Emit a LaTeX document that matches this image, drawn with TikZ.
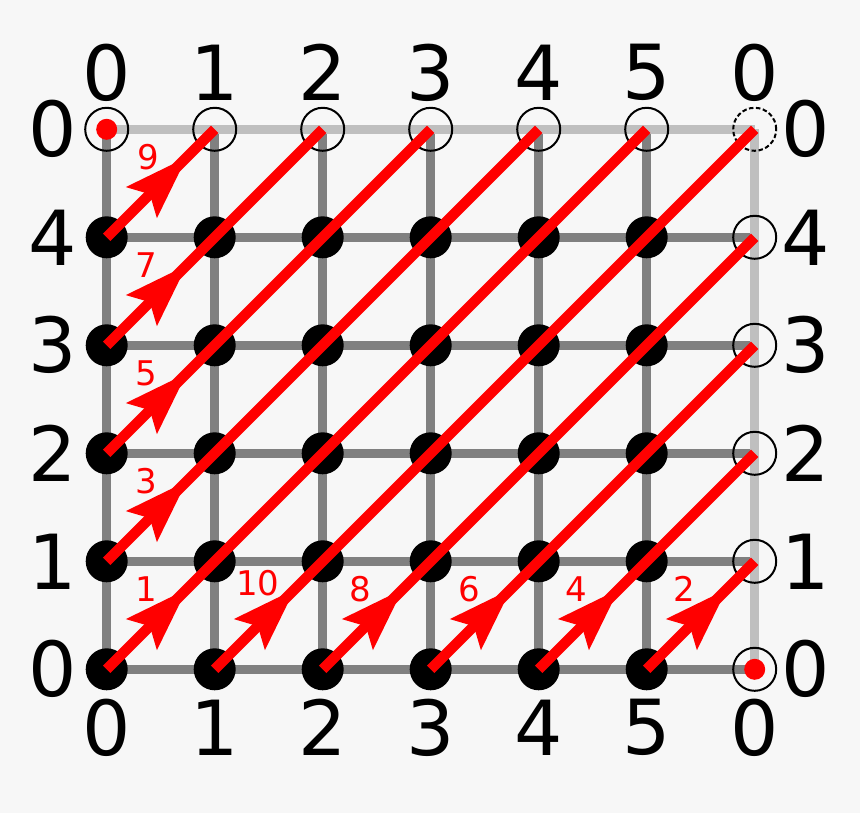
\documentclass[tikz,border=0pt]{standalone}
\usepackage{fontspec}
\setmainfont{DejaVu Sans}
\usetikzlibrary{decorations.markings}
\definecolor{bg}{HTML}{F7F7F7}
\definecolor{darkg}{HTML}{808080}
\definecolor{lightg}{HTML}{BFBFBF}
\tikzset{
  bigl/.style={font=\fontsize{76}{76}\selectfont, inner sep=0pt, text=black},
  redl/.style={font=\fontsize{34}{34}\selectfont, inner sep=0pt, text=red},
  darkline/.style={draw=darkg, line width=9pt},
  lightline/.style={draw=lightg, line width=9pt},
  ring/.style={draw=black, line width=2pt, circle, minimum size=43pt, inner sep=0pt},
  dashring/.style={ring, dash pattern=on 4.5pt off 2.5pt},
  blackdot/.style={fill=black, circle, minimum size=42pt, inner sep=0pt},
  reddot/.style={fill=red, circle, minimum size=21pt, inner sep=0pt},
  diag/.style={draw=red, line width=10.5pt,
    postaction={decorate, decoration={markings,
      mark=at position 49pt with {\fill[red] (64,0) -- (0,22) -- (12,0) -- (0,-22) -- cycle;}}}}
}
\begin{document}
\begin{tikzpicture}[x=1pt, y=-1pt]
\useasboundingbox (0,0) rectangle (860,813);
\fill[bg] (0,0) rectangle (860,813);
% grid points
\foreach \c in {0,...,6} {
  \foreach \r in {0,...,5} {
    \coordinate (p\c\r) at ({106.7+108*\c},{669.3-108*\r});
  }
}
% dark grid lines
\foreach \r in {0,...,4} { \draw[darkline] (p0\r) -- (p6\r); }
\foreach \c in {0,...,5} { \draw[darkline] (p\c0) -- (p\c5); }
% light border lines
\draw[lightline] (p05) -- (p65);
\draw[lightline] (p60) -- (p65);
% rings
\foreach \c in {0,...,5} { \node[ring] (r\c5) at (p\c5) {}; }
\node[dashring] (r65) at (p65) {};
\foreach \r in {0,...,4} { \node[ring] (r6\r) at (p6\r) {}; }
% black dots
\foreach \c in {0,...,5} {
  \foreach \r in {0,...,4} { \node[blackdot] (d\c\r) at (p\c\r) {}; }
}
% red dots
\node[reddot] (rdA) at (p05) {};
\node[reddot] (rdB) at (p60) {};
% red diagonals
\draw[diag] (p04) -- (p15);
\draw[diag] (p03) -- (p25);
\draw[diag] (p02) -- (p35);
\draw[diag] (p01) -- (p45);
\draw[diag] (p00) -- (p55);
\draw[diag] (p10) -- (p65);
\draw[diag] (p20) -- (p64);
\draw[diag] (p30) -- (p63);
\draw[diag] (p40) -- (p62);
\draw[diag] (p50) -- (p61);
% red labels
\node[redl] (n9) at (148,157) {9};
\node[redl] (n7) at (146,265) {7};
\node[redl] (n5) at (146,373) {5};
\node[redl] (n3) at (146,481) {3};
\node[redl] (n1) at (146,589) {1};
\node[redl] (n10) at (258,583) {10};
\node[redl] (n8) at (360,589) {8};
\node[redl] (n6) at (469,589) {6};
\node[redl] (n4) at (576,589) {4};
\node[redl] (n2) at (684,589) {2};
% top and bottom labels
\foreach \c/\t in {0/0,1/1,2/2,3/3,4/4,5/5,6/0} {
  \node[bigl] (top\c) at ({106.7+108*\c},72.5) {\t};
  \node[bigl] (bot\c) at ({106.7+108*\c},727.5) {\t};
}
% side labels
\foreach \r/\t in {5/0,4/4,3/3,2/2,1/1,0/0} {
  \node[bigl] (lft\r) at (53,{669.3-108*\r}) {\t};
  \node[bigl] (rgt\r) at (806,{669.3-108*\r}) {\t};
}
\end{tikzpicture}
\end{document}
